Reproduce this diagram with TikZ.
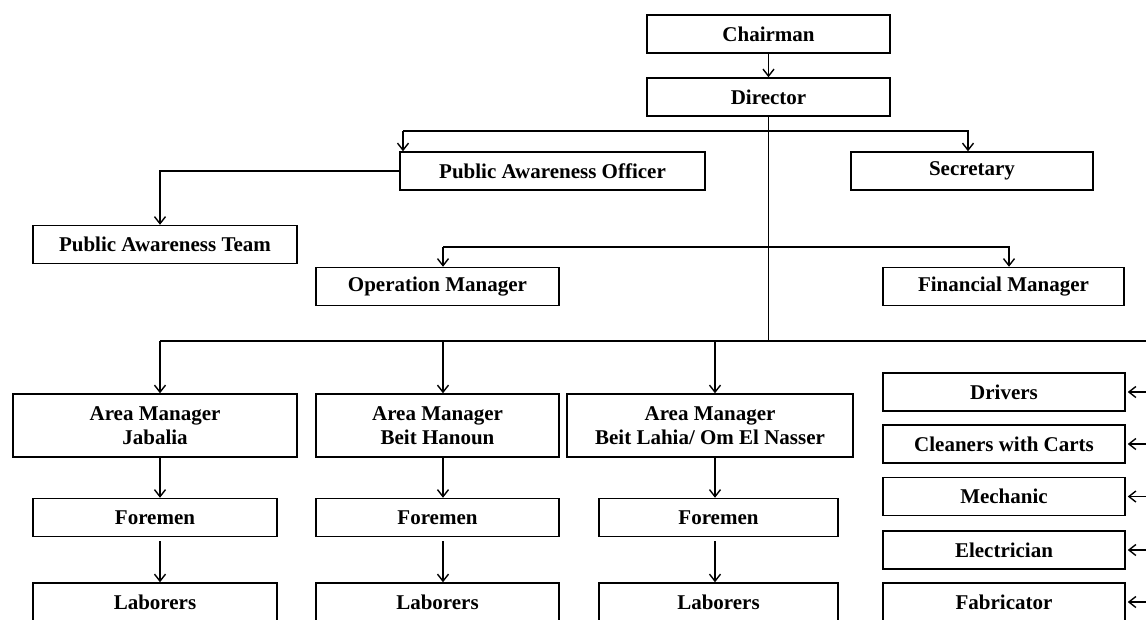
\documentclass[tikz,border=0pt]{standalone}
\usepackage{fontspec}
\setmainfont{Liberation Serif}
\usetikzlibrary{arrows.meta}
\tikzset{>={Straight Barb[length=7pt,width=11pt]}}
\tikzset{
  unit/.style={draw,line width=1.5pt,inner sep=0pt,align=center,
    minimum height=38pt,font=\fontsize{21}{24}\selectfont\bfseries},
  link/.style={line width=1.4pt}
}

\begin{document}
\begin{tikzpicture}[x=1pt,y=-1pt]
    \useasboundingbox (0,0) rectangle (1146,619);
    \clip (0,0) rectangle (1146,619);
    % top of the chart
    \node[unit,minimum width=243pt] (chair) at (768.5,34) {Chairman};
    \node[unit,minimum width=243pt] (dir) at (768.5,97) {Director};
    \node[unit,minimum width=305pt] (pao) at (552.5,171) {Public Awareness Officer};
    \node[unit,minimum width=242pt] (sec) at (972,171) {Secretary};
    \node[unit,minimum width=264pt] (pat) at (165,244.5) {Public Awareness Team};
    \node[unit,minimum width=243pt] (opm) at (437.5,286.5) {Operation Manager};
    \node[unit,minimum width=241pt] (fin) at (1003.5,286.5) {Financial Manager};
    % areas
    \node[unit,minimum width=284pt,minimum height=63pt] (am1) at (155,425.5) {Area Manager\\Jabalia};
    \node[unit,minimum width=243pt,minimum height=63pt] (am2) at (437.5,425.5) {Area Manager\\Beit Hanoun};
    \node[unit,minimum width=286pt,minimum height=63pt] (am3) at (710,425.5) {Area Manager\\Beit Lahia/ Om El Nasser};
    \node[unit,minimum width=244pt] (fm1) at (155,517.5) {Foremen};
    \node[unit,minimum width=243pt] (fm2) at (437.5,517.5) {Foremen};
    \node[unit,minimum width=239pt] (fm3) at (718.5,517.5) {Foremen};
    \node[unit,minimum width=244pt] (lab1) at (155,602) {Laborers};
    \node[unit,minimum width=243pt] (lab2) at (437.5,602) {Laborers};
    \node[unit,minimum width=239pt] (lab3) at (718.5,602) {Laborers};
    % workshop staff
    \node[unit,minimum width=242pt] (drv) at (1004,392) {Drivers};
    \node[unit,minimum width=242pt] (cln) at (1004,444) {Cleaners with Carts};
    \node[unit,minimum width=242pt] (mech) at (1004,496.5) {Mechanic};
    \node[unit,minimum width=242pt] (elec) at (1004,550) {Electrician};
    \node[unit,minimum width=242pt] (fab) at (1004,602) {Fabricator};

    \coordinate (up) at (403,131);
    \coordinate (mid) at (443,247);
    \coordinate (c1) at (160,341);
    \coordinate (c2) at (443,341);
    \coordinate (c3) at (715,341);
    \coordinate (busend) at (1146,341);

    \draw[link,->] (chair) -- (dir);
    \draw[link] (dir.south) -- (dir.south |- c1);
    \draw[link,->] (up) -- (up |- pao.north);
    \draw[link,->] (up) -| ([xshift=-4pt]sec.north);
    \draw[link,->] (pao.west) -| ([xshift=-5pt]pat.north);
    \draw[link,->] (mid) -- (mid |- opm.north);
    \draw[link,->] (mid) -| ([xshift=5.5pt]fin.north);
    \draw[link] (c1) -- (busend);
    \foreach\i in {1,2,3}{
     \draw[link,->] (c\i) -- (c\i |- am\i.north);
     \draw[link,->] (c\i |- am\i.south) -- (c\i |- fm\i.north);
     \draw[link,->,shorten <=4pt] (c\i |- fm\i.south) -- (c\i |- lab\i.north);}
    \foreach\n in {drv,cln,mech,elec,fab}{
     \draw[link,->] (\n.east -| busend) -- ([xshift=2pt]\n.east);}
  \end{tikzpicture}
\end{document}
